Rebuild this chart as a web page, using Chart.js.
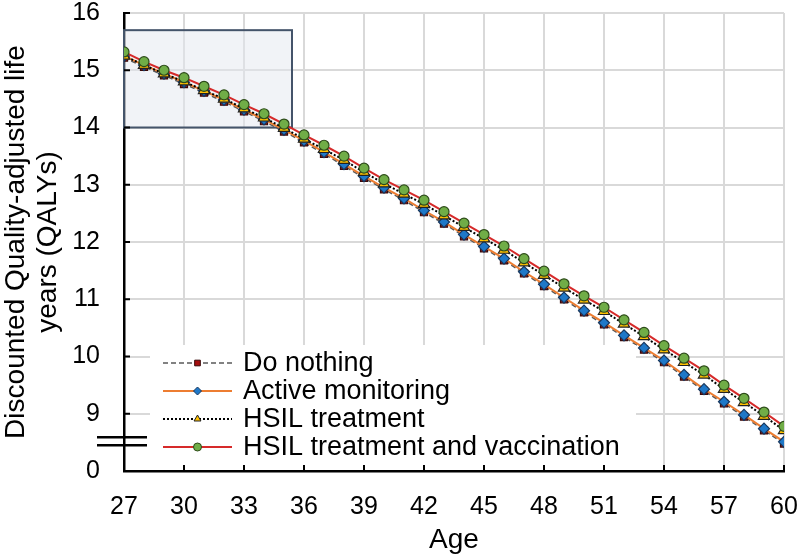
<!DOCTYPE html>
<html>
<head>
<meta charset="utf-8">
<script src="https://cdn.jsdelivr.net/npm/chart.js@4/dist/chart.umd.min.js"></script>
<style>
  html, body { margin: 0; padding: 0; background: #fff; }
  canvas { display: block; }
</style>
</head>
<body>
<canvas id="qalyChart" width="800" height="556"></canvas>
<script>
// Data
const ages = [27, 28, 29, 30, 31, 32, 33, 34, 35, 36, 37, 38, 39, 40, 41, 42, 43, 44, 45, 46, 47, 48, 49, 50, 51, 52, 53, 54, 55, 56, 57, 58, 59, 60];
const doNothing = [15.22, 15.06, 14.91, 14.76, 14.61, 14.45, 14.28, 14.11, 13.93, 13.74, 13.54, 13.33, 13.12, 12.92, 12.73, 12.52, 12.32, 12.10, 11.89, 11.68, 11.45, 11.23, 11.00, 10.77, 10.56, 10.34, 10.12, 9.90, 9.65, 9.40, 9.18, 8.95, 8.71, 8.48];
const activeMonitoring = [15.25, 15.09, 14.94, 14.79, 14.64, 14.48, 14.31, 14.14, 13.96, 13.77, 13.57, 13.36, 13.15, 12.95, 12.76, 12.55, 12.35, 12.13, 11.92, 11.71, 11.48, 11.26, 11.03, 10.80, 10.59, 10.37, 10.15, 9.93, 9.68, 9.43, 9.21, 8.98, 8.74, 8.51];
const hsilTreatment = [15.25, 15.09, 14.94, 14.80, 14.65, 14.50, 14.33, 14.17, 13.99, 13.80, 13.62, 13.43, 13.22, 13.02, 12.84, 12.66, 12.46, 12.26, 12.06, 11.86, 11.64, 11.42, 11.20, 10.99, 10.79, 10.57, 10.35, 10.12, 9.90, 9.68, 9.43, 9.20, 8.96, 8.71];
const hsilVaccination = [15.32, 15.15, 15.00, 14.87, 14.72, 14.57, 14.40, 14.24, 14.06, 13.87, 13.69, 13.50, 13.29, 13.09, 12.91, 12.73, 12.53, 12.33, 12.13, 11.93, 11.71, 11.49, 11.27, 11.06, 10.86, 10.64, 10.42, 10.19, 9.97, 9.75, 9.50, 9.27, 9.03, 8.78];
const seriesNames = ["Do nothing", "Active monitoring", "HSIL treatment", "HSIL treatment and vaccination"];
const yTickValues = [8, 9, 10, 11, 12, 13, 14, 15, 16];
const yTickLabels = ["0", "9", "10", "11", "12", "13", "14", "15", "16"];
const breakValues = [8.59, 8.45];      // axis break marks
const zoomBox = { x0: 27, x1: 35.4, y0: 14.0, y1: 15.7 };

const FONT = "'Liberation Sans', Arial, sans-serif";
Chart.defaults.font.family = FONT;
Chart.defaults.color = "#000";

const toPoints = vals => ages.map((a, i) => ({ x: a, y: vals[i] }));

const styles = [
  { line: "#595959", dash: [5, 3], width: 1.5, fill: "#a50f0f", border: "#3a0a0a", shape: "rect", r: 5 },
  { line: "#ed7d31", dash: [], width: 2, fill: "#1f78c8", border: "#17375e", shape: "rectRot", r: 5.5 },
  { line: "#000000", dash: [2, 2], width: 2, fill: "#ffc000", border: "#222", shape: "triangle", r: 6.5 },
  { line: "#d62a2a", dash: [], width: 2, fill: "#70ad47", border: "#2d4a1a", shape: "circle", r: 5 }
];
const allSeries = [doNothing, activeMonitoring, hsilTreatment, hsilVaccination];

const datasets = allSeries.map((vals, i) => ({
  label: seriesNames[i],
  data: toPoints(vals),
  borderColor: styles[i].line,
  borderDash: styles[i].dash,
  borderWidth: styles[i].width,
  pointStyle: styles[i].shape,
  pointRadius: styles[i].r,
  pointBackgroundColor: styles[i].fill,
  pointBorderColor: styles[i].border,
  pointBorderWidth: 1.2,
  tension: 0,
  fill: false,
  order: 3 - i
}));

// shaded box behind the lines
const boxPlugin = {
  id: "zoomBox",
  beforeDatasetsDraw(chart) {
    const { ctx, scales: { x, y } } = chart;
    const l = x.getPixelForValue(zoomBox.x0), r = x.getPixelForValue(zoomBox.x1);
    const t = y.getPixelForValue(zoomBox.y1), b = y.getPixelForValue(zoomBox.y0);
    ctx.save();
    ctx.fillStyle = "rgba(228,231,240,0.5)";
    ctx.fillRect(l, t, r - l, b - t);
    ctx.strokeStyle = "#44546a";
    ctx.lineWidth = 2;
    ctx.strokeRect(l, t, r - l, b - t);
    ctx.restore();
  }
};

// legend, inner ticks, axis break
const overlayPlugin = {
  id: "overlay",
  afterDatasetsDraw(chart) {
    const { ctx, chartArea: ca, scales: { x, y } } = chart;
    ctx.save();

    // legend with white background
    const lx = ca.left + 26, ly = ca.top + 332;
    ctx.fillStyle = "#fff";
    ctx.fillRect(lx, ly, 486, 121);
    ctx.font = "27px " + FONT;
    ctx.textBaseline = "middle";
    datasets.forEach((ds, i) => {
      const cy = ly + 18 + i * 28;
      const x0 = ca.left + 39, x1 = ca.left + 108, mx = (x0 + x1) / 2;
      ctx.strokeStyle = ds.borderColor;
      ctx.lineWidth = ds.borderWidth;
      ctx.setLineDash(ds.borderDash);
      ctx.beginPath();
      ctx.moveTo(x0, cy);
      ctx.lineTo(x1, cy);
      ctx.stroke();
      ctx.setLineDash([]);
      ctx.fillStyle = ds.pointBackgroundColor;
      ctx.strokeStyle = ds.pointBorderColor;
      ctx.lineWidth = 1;
      Chart.helpers.drawPoint(ctx, { pointStyle: ds.pointStyle, radius: 4, borderWidth: 1 }, mx, cy);
      ctx.fillStyle = "#000";
      ctx.fillText(ds.label, ca.left + 119, cy + 1);
    });

    // inner tick marks
    ctx.strokeStyle = "#000";
    ctx.lineWidth = 2;
    x.ticks.forEach(t => {
      const px = x.getPixelForValue(t.value);
      ctx.beginPath();
      ctx.moveTo(px, ca.bottom);
      ctx.lineTo(px, ca.bottom - 6);
      ctx.stroke();
    });
    y.ticks.forEach(t => {
      const py = y.getPixelForValue(t.value);
      ctx.beginPath();
      ctx.moveTo(ca.left, py);
      ctx.lineTo(ca.left + 6, py);
      ctx.stroke();
    });

    // axis break
    ctx.lineWidth = 2.5;
    breakValues.forEach(v => {
      const py = y.getPixelForValue(v);
      ctx.beginPath();
      ctx.moveTo(ca.left - 27, py);
      ctx.lineTo(ca.left + 23, py);
      ctx.stroke();
    });
    ctx.restore();
  }
};

new Chart(document.getElementById("qalyChart"), {
  type: "line",
  data: { datasets },
  options: {
    responsive: false,
    animation: false,
    devicePixelRatio: 1,
    layout: { padding: { top: 13, right: 16, left: 0, bottom: 0 } },
    plugins: { legend: { display: false }, tooltip: { enabled: false } },
    scales: {
      x: {
        type: "linear",
        min: 27,
        max: 60,
        ticks: { stepSize: 3, font: { size: 25 }, padding: 21, maxRotation: 0 },
        grid: { color: "#d9d9d9", lineWidth: 2, drawTicks: false },
        border: { color: "#000", width: 2.5 },
        title: { display: true, text: "Age", font: { size: 28, lineHeight: 1.15 }, padding: 0 },
        afterFit: s => { s.height = 85; s.paddingLeft = 0; s.paddingRight = 0; }
      },
      y: {
        min: 8,
        max: 16,
        afterBuildTicks: s => { s.ticks = yTickValues.map(v => ({ value: v })); },
        ticks: {
          font: { size: 25 },
          padding: 24,
          callback: v => yTickLabels[yTickValues.indexOf(v)]
        },
        grid: { color: "#d9d9d9", lineWidth: 2, drawTicks: false },
        border: { color: "#000", width: 2.5 },
        title: {
          display: true,
          text: ["Discounted Quality-adjusted life", "years (QALYs)"],
          font: { size: 28, lineHeight: 1.15 },
          padding: { top: 0, bottom: 0 }
        },
        afterFit: s => { s.width = 124; s.paddingTop = 0; s.paddingBottom = 0; }
      }
    }
  },
  plugins: [boxPlugin, overlayPlugin]
});
</script>
</body>
</html>
